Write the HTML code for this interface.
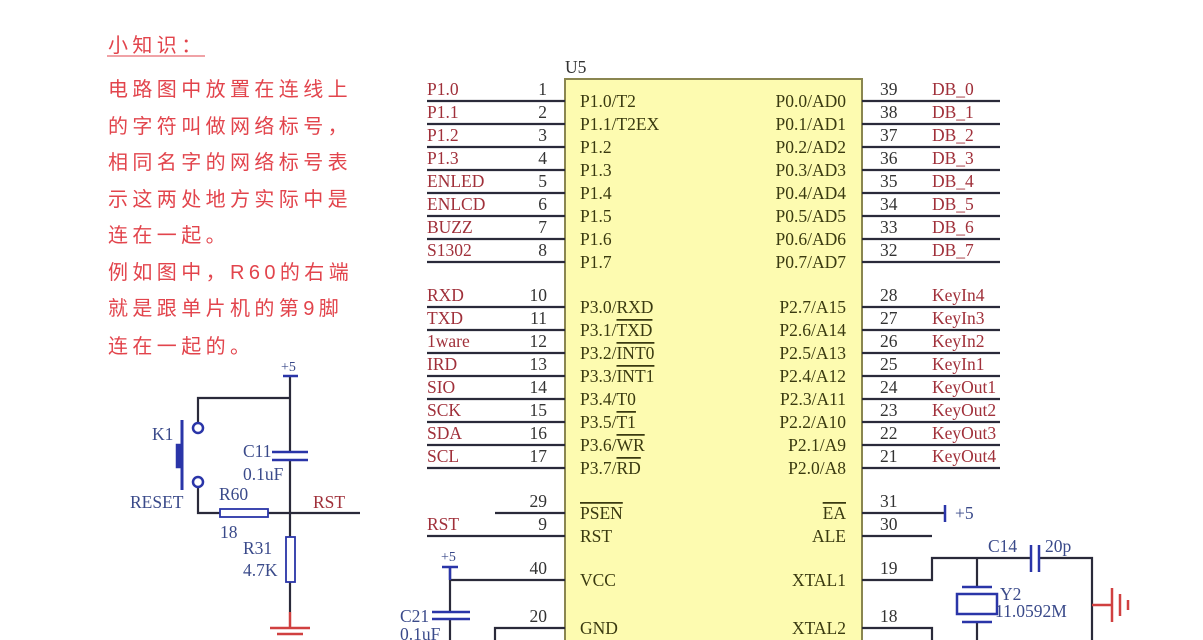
<!DOCTYPE html>
<html><head><meta charset="utf-8"><style>
html,body{margin:0;padding:0;background:#fff;width:1203px;height:640px;overflow:hidden}
svg{display:block}
.cn{font-family:"Liberation Sans","Noto Sans CJK SC",sans-serif;font-size:20px;letter-spacing:4.4px;fill:#e2444c}
.t{font-family:"Liberation Serif",serif;font-size:17.5px}
.in{fill:#3a3a10}
.net{fill:#a0303a}
.pn{fill:#333}
.bl{fill:#3a4a8a}
</style></head><body>
<svg width="1203" height="640" viewBox="0 0 1203 640" xmlns="http://www.w3.org/2000/svg">
<!-- Chinese note -->
<text class="cn" x="108" y="52">小知识：</text>
<line x1="107" y1="56" x2="205" y2="56" stroke="#e2444c" stroke-width="1"/>
<text class="cn" x="108" y="96">电路图中放置在连线上</text>
<text class="cn" x="108" y="133">的字符叫做网络标号，</text>
<text class="cn" x="108" y="169">相同名字的网络标号表</text>
<text class="cn" x="108" y="206">示这两处地方实际中是</text>
<text class="cn" x="108" y="242">连在一起。</text>
<text class="cn" x="108" y="279">例如图中，R60的右端</text>
<text class="cn" x="108" y="315">就是跟单片机的第9脚</text>
<text class="cn" x="108" y="353">连在一起的。</text>

<!-- chip -->
<rect x="565" y="79" width="297" height="570" fill="#fdfbb0" stroke="#8a8650" stroke-width="2"/>
<text class="t pn" x="565" y="73">U5</text>

<g stroke="#2a2a3a" stroke-width="2.2">
<line x1="427" y1="101" x2="565" y2="101"/><line x1="427" y1="124" x2="565" y2="124"/>
<line x1="427" y1="147" x2="565" y2="147"/><line x1="427" y1="170" x2="565" y2="170"/>
<line x1="427" y1="193" x2="565" y2="193"/><line x1="427" y1="216" x2="565" y2="216"/>
<line x1="427" y1="239" x2="565" y2="239"/><line x1="427" y1="262" x2="565" y2="262"/>
<line x1="427" y1="307" x2="565" y2="307"/><line x1="427" y1="330" x2="565" y2="330"/>
<line x1="427" y1="353" x2="565" y2="353"/><line x1="427" y1="376" x2="565" y2="376"/>
<line x1="427" y1="399" x2="565" y2="399"/><line x1="427" y1="422" x2="565" y2="422"/>
<line x1="427" y1="445" x2="565" y2="445"/><line x1="427" y1="468" x2="565" y2="468"/>
<line x1="862" y1="101" x2="1000" y2="101"/><line x1="862" y1="124" x2="1000" y2="124"/>
<line x1="862" y1="147" x2="1000" y2="147"/><line x1="862" y1="170" x2="1000" y2="170"/>
<line x1="862" y1="193" x2="1000" y2="193"/><line x1="862" y1="216" x2="1000" y2="216"/>
<line x1="862" y1="239" x2="1000" y2="239"/><line x1="862" y1="262" x2="1000" y2="262"/>
<line x1="862" y1="307" x2="1000" y2="307"/><line x1="862" y1="330" x2="1000" y2="330"/>
<line x1="862" y1="353" x2="1000" y2="353"/><line x1="862" y1="376" x2="1000" y2="376"/>
<line x1="862" y1="399" x2="1000" y2="399"/><line x1="862" y1="422" x2="1000" y2="422"/>
<line x1="862" y1="445" x2="1000" y2="445"/><line x1="862" y1="468" x2="1000" y2="468"/>
<!-- bottom -->
<line x1="495" y1="513" x2="565" y2="513"/>
<line x1="427" y1="536" x2="565" y2="536"/>
<line x1="450" y1="580" x2="565" y2="580"/>
<polyline points="495,640 495,628 565,628" fill="none"/>
<line x1="862" y1="513" x2="945" y2="513"/>
<line x1="862" y1="536" x2="932" y2="536"/>
<polyline points="862,580 932,580 932,558 1030,558" fill="none"/>
<polyline points="1040,558 1092,558 1092,640" fill="none"/>
<polyline points="862,628 932,628 932,640" fill="none"/>
<line x1="977" y1="558" x2="977" y2="586"/>
<line x1="977" y1="622" x2="977" y2="640"/>
<!-- left circuit -->
<line x1="290" y1="376" x2="290" y2="452"/>
<line x1="290" y1="460" x2="290" y2="537"/>
<line x1="290" y1="582" x2="290" y2="612"/>
<polyline points="290,398 198,398 198,422" fill="none"/>
<polyline points="198,488 198,513 220,513" fill="none"/>
<line x1="268" y1="513" x2="360" y2="513"/>
<line x1="450" y1="567" x2="450" y2="612"/>
<line x1="450" y1="619" x2="450" y2="640"/>
</g>
<!-- blue items -->
<g stroke="#2a35a8" stroke-width="2.5" fill="none">
<line x1="945" y1="505" x2="945" y2="522"/>
<line x1="283" y1="376" x2="298" y2="376"/>
<line x1="442" y1="567" x2="458" y2="567"/>
<line x1="450" y1="567" x2="450" y2="580"/>
<line x1="272" y1="452" x2="308" y2="452"/><line x1="272" y1="460" x2="308" y2="460"/>
<line x1="432" y1="612" x2="470" y2="612"/><line x1="432" y1="619" x2="470" y2="619"/>
<line x1="1031" y1="545" x2="1031" y2="572"/><line x1="1039" y1="545" x2="1039" y2="572"/>
<line x1="962" y1="587" x2="992" y2="587"/><rect x="957" y="594" width="40" height="20"/><line x1="962" y1="622" x2="992" y2="622"/>
<rect x="220" y="509" width="48" height="8" stroke-width="1.8"/>
<rect x="286" y="537" width="9" height="45" stroke-width="1.8"/>
<line x1="182" y1="420" x2="182" y2="490" stroke-width="3"/>
<rect x="177" y="445" width="5" height="22" fill="#2a35a8"/>
<circle cx="198" cy="428" r="5"/><circle cx="198" cy="482" r="5"/>
</g>
<!-- grounds -->
<g stroke="#d04040" stroke-width="2.5">
<line x1="290" y1="612" x2="290" y2="628"/>
<line x1="270" y1="628" x2="310" y2="628"/><line x1="277" y1="634" x2="303" y2="634"/>
<line x1="1092" y1="605" x2="1112" y2="605"/>
<line x1="1112" y1="588" x2="1112" y2="622"/><line x1="1120" y1="594" x2="1120" y2="616"/><line x1="1128" y1="600" x2="1128" y2="610"/>
</g>

<!-- net labels -->
<g class="t net">
<text x="427" y="95">P1.0</text><text x="427" y="118">P1.1</text><text x="427" y="141">P1.2</text><text x="427" y="164">P1.3</text>
<text x="427" y="187">ENLED</text><text x="427" y="210">ENLCD</text><text x="427" y="233">BUZZ</text><text x="427" y="256">S1302</text>
<text x="427" y="301">RXD</text><text x="427" y="324">TXD</text><text x="427" y="347">1ware</text><text x="427" y="370">IRD</text>
<text x="427" y="393">SIO</text><text x="427" y="416">SCK</text><text x="427" y="439">SDA</text><text x="427" y="462">SCL</text>
<text x="427" y="530">RST</text>
<text x="932" y="95">DB_0</text><text x="932" y="118">DB_1</text><text x="932" y="141">DB_2</text><text x="932" y="164">DB_3</text>
<text x="932" y="187">DB_4</text><text x="932" y="210">DB_5</text><text x="932" y="233">DB_6</text><text x="932" y="256">DB_7</text>
<text x="932" y="301">KeyIn4</text><text x="932" y="324">KeyIn3</text><text x="932" y="347">KeyIn2</text><text x="932" y="370">KeyIn1</text>
<text x="932" y="393">KeyOut1</text><text x="932" y="416">KeyOut2</text><text x="932" y="439">KeyOut3</text><text x="932" y="462">KeyOut4</text>
<text x="313" y="508">RST</text>
</g>
<!-- pin numbers -->
<g class="t pn" text-anchor="end">
<text x="547" y="95">1</text><text x="547" y="118">2</text><text x="547" y="141">3</text><text x="547" y="164">4</text>
<text x="547" y="187">5</text><text x="547" y="210">6</text><text x="547" y="233">7</text><text x="547" y="256">8</text>
<text x="547" y="301">10</text><text x="547" y="324">11</text><text x="547" y="347">12</text><text x="547" y="370">13</text>
<text x="547" y="393">14</text><text x="547" y="416">15</text><text x="547" y="439">16</text><text x="547" y="462">17</text>
<text x="547" y="507">29</text><text x="547" y="530">9</text><text x="547" y="574">40</text><text x="547" y="622">20</text>
</g>
<g class="t pn">
<text x="880" y="95">39</text><text x="880" y="118">38</text><text x="880" y="141">37</text><text x="880" y="164">36</text>
<text x="880" y="187">35</text><text x="880" y="210">34</text><text x="880" y="233">33</text><text x="880" y="256">32</text>
<text x="880" y="301">28</text><text x="880" y="324">27</text><text x="880" y="347">26</text><text x="880" y="370">25</text>
<text x="880" y="393">24</text><text x="880" y="416">23</text><text x="880" y="439">22</text><text x="880" y="462">21</text>
<text x="880" y="507">31</text><text x="880" y="530">30</text><text x="880" y="574">19</text><text x="880" y="622">18</text>
</g>
<!-- chip internal -->
<g class="t in">
<text x="580" y="107">P1.0/T2</text><text x="580" y="130">P1.1/T2EX</text><text x="580" y="153">P1.2</text><text x="580" y="176">P1.3</text>
<text x="580" y="199">P1.4</text><text x="580" y="222">P1.5</text><text x="580" y="245">P1.6</text><text x="580" y="268">P1.7</text>
<text x="580" y="313">P3.0/RXD</text><text x="580" y="336">P3.1/<tspan text-decoration="overline">TXD</tspan></text>
<text x="580" y="359">P3.2/<tspan text-decoration="overline">INT0</tspan></text><text x="580" y="382">P3.3/<tspan text-decoration="overline">INT1</tspan></text>
<text x="580" y="405">P3.4/T0</text><text x="580" y="428">P3.5/<tspan text-decoration="overline">T1</tspan></text>
<text x="580" y="451">P3.6/<tspan text-decoration="overline">WR</tspan></text><text x="580" y="474">P3.7/<tspan text-decoration="overline">RD</tspan></text>
<text x="580" y="519" text-decoration="overline">PSEN</text><text x="580" y="542">RST</text>
<text x="580" y="586">VCC</text><text x="580" y="634">GND</text>
</g>
<g class="t in" text-anchor="end">
<text x="846" y="107">P0.0/AD0</text><text x="846" y="130">P0.1/AD1</text><text x="846" y="153">P0.2/AD2</text><text x="846" y="176">P0.3/AD3</text>
<text x="846" y="199">P0.4/AD4</text><text x="846" y="222">P0.5/AD5</text><text x="846" y="245">P0.6/AD6</text><text x="846" y="268">P0.7/AD7</text>
<text x="846" y="313">P2.7/A15</text><text x="846" y="336">P2.6/A14</text><text x="846" y="359">P2.5/A13</text><text x="846" y="382">P2.4/A12</text>
<text x="846" y="405">P2.3/A11</text><text x="846" y="428">P2.2/A10</text><text x="846" y="451">P2.1/A9</text><text x="846" y="474">P2.0/A8</text>
<text x="846" y="519" text-decoration="overline">EA</text><text x="846" y="542">ALE</text>
<text x="846" y="586">XTAL1</text><text x="846" y="634">XTAL2</text>
</g>
<!-- other labels -->
<g class="t bl">
<text x="955" y="519">+5</text>
<text x="281" y="371" font-size="14">+5</text>
<text x="441" y="561" font-size="14">+5</text>
<text x="152" y="440">K1</text>
<text x="243" y="457">C11</text><text x="243" y="480">0.1uF</text>
<text x="130" y="508">RESET</text>
<text x="219" y="500">R60</text><text x="220" y="538">18</text>
<text x="243" y="554">R31</text><text x="243" y="576">4.7K</text>
<text x="400" y="622">C21</text><text x="400" y="640">0.1uF</text>
<text x="988" y="552">C14</text><text x="1045" y="552">20p</text>
<text x="1000" y="600">Y2</text><text x="995" y="617">11.0592M</text>
</g>
</svg>
</body></html>
